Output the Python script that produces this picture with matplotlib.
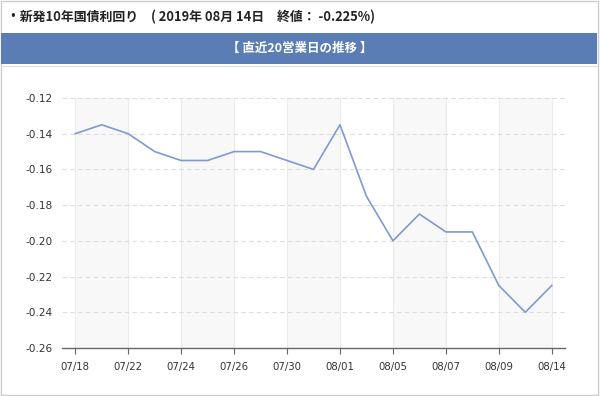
import matplotlib
matplotlib.use("Agg")
import matplotlib.pyplot as plt
from matplotlib.patches import Rectangle
from matplotlib.lines import Line2D

plt.rcParams['font.family'] = ['DejaVu Sans']

dates = ["07/18", "07/19", "07/22", "07/23", "07/24", "07/25", "07/26", "07/29",
         "07/30", "07/31", "08/01", "08/02", "08/05", "08/06", "08/07", "08/08",
         "08/09", "08/13", "08/14"]
yields = [-0.140, -0.135, -0.140, -0.150, -0.155, -0.155, -0.150, -0.150,
          -0.155, -0.160, -0.135, -0.175, -0.200, -0.185, -0.195, -0.195,
          -0.225, -0.240, -0.225]
tick_idx = [0, 2, 4, 6, 8, 10, 12, 14, 16, 18]
tick_labels = [dates[i] for i in tick_idx]
yticks = [-0.26, -0.24, -0.22, -0.20, -0.18, -0.16, -0.14, -0.12]
title = "・新発10年国債利回り　( 2019年 08月 14日　終値： -0.225%)"
header = "【 直近20営業日の推移 】"

W, H = 600, 396
fig = plt.figure(figsize=(W / 100, H / 100), dpi=100)
fig.patch.set_facecolor('white')

# outer border
fig.add_artist(Rectangle((0.5 / W, 1 - 394.5 / H), 597 / W, 394 / H, transform=fig.transFigure,
                         facecolor='none', edgecolor='#cccccc', lw=1.0))
# header band
fig.add_artist(Rectangle((1 / W, 1 - 64 / H), 596 / W, 31 / H, transform=fig.transFigure,
                         facecolor='#5a7db6', edgecolor='none'))
fig.add_artist(Line2D([1 / W, 597 / W], [1 - 65.5 / H, 1 - 65.5 / H], transform=fig.transFigure,
                      color='#dddddd', lw=0.8))

fig.text(7 / W, 1 - 16.5 / H, title, ha='left', va='center', fontsize=9.3, fontweight='bold',
         color='#222222', family=['Noto Sans CJK JP', 'DejaVu Sans'])
fig.text(300 / W, 1 - 48.5 / H, header, ha='center', va='center', fontsize=9, fontweight='bold',
         color='white', family=['Noto Sans CJK JP', 'DejaVu Sans'])

ax = fig.add_axes([62 / W, 1 - 348 / H, (565 - 62) / W, (348 - 98) / H])
ax.set_xlim(-0.5, len(dates) - 0.5)
ax.set_ylim(-0.26, -0.12)

# alternating bands
for k in range(0, len(tick_idx) - 1, 2):
    ax.axvspan(tick_idx[k], tick_idx[k + 1], color='#f8f8f8', lw=0, zorder=0)
# vertical grid
for i in tick_idx:
    ax.axvline(i, color='#ebebeb', lw=0.8, zorder=1)
# horizontal dashed grid
for v in yticks[1:]:
    ax.axhline(v, color='#dddddd', lw=0.8, ls=(0, (4, 3)), zorder=1)

ax.plot(range(len(dates)), yields, color='#8099d1', lw=1.2, zorder=3)

for s in ['left', 'right', 'top']:
    ax.spines[s].set_visible(False)
ax.spines['bottom'].set_color('#666666')
ax.spines['bottom'].set_linewidth(1.0)

ax.set_xticks(tick_idx)
ax.set_xticklabels(tick_labels)
ax.set_yticks(yticks)
ax.set_yticklabels([f"{v:.2f}" for v in yticks])
ax.tick_params(axis='x', length=4, width=0.8, color='#666666', pad=6, labelsize=7.3, labelcolor='#333333')
ax.tick_params(axis='y', length=0, pad=7, labelsize=7.6, labelcolor='#333333')

fig.savefig('out.png', dpi=100)
